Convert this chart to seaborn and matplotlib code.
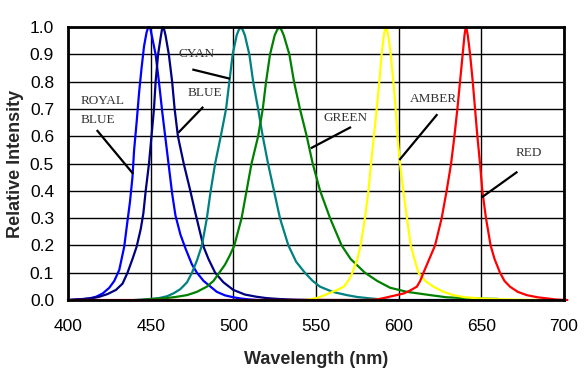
import matplotlib
matplotlib.use("Agg")
from matplotlib import pyplot as plt
import pandas as pd
import seaborn as sns

# LED spectra: wavelength (nm) and relative intensity
royal_blue_nm = [400, 405, 410, 413, 417, 421, 425, 428, 431, 434, 436, 437.5, 439, 440, 441.5,
                 443, 444.5, 446, 447.5, 448.3, 449, 449.8, 451, 453, 455, 457, 459, 461, 463,
                 465, 468, 471, 475, 478, 482, 486, 490, 495, 500, 505, 510, 515, 520]
royal_blue_val = [0.0, 0.002, 0.004, 0.006, 0.012, 0.024, 0.045, 0.07, 0.11, 0.195, 0.29, 0.36,
                  0.45, 0.55, 0.65, 0.76, 0.85, 0.93, 0.98, 0.995, 1.0, 0.995, 0.96, 0.9, 0.8,
                  0.69, 0.59, 0.49, 0.39, 0.31, 0.24, 0.19, 0.13, 0.1, 0.07, 0.05, 0.03, 0.017,
                  0.01, 0.005, 0.002, 0.0, 0.0]

blue_nm = [400, 405, 410, 415, 419, 424, 429, 433, 436, 439, 441.5, 444, 445.6, 447, 448, 449,
           450.5, 452, 453, 454.5, 456, 456.8, 457.5, 458.2, 459, 461, 463, 464.5, 466.5, 470,
           474, 477, 482, 485, 489, 494, 500, 507, 514, 520, 527, 534, 540, 560, 600, 640]
blue_val = [0.0, 0.002, 0.004, 0.007, 0.012, 0.022, 0.037, 0.06, 0.1, 0.15, 0.195, 0.26, 0.318,
            0.4, 0.45, 0.5, 0.6, 0.7, 0.8, 0.9, 0.96, 0.99, 1.0, 0.99, 0.97, 0.9, 0.8, 0.7, 0.6,
            0.5, 0.4, 0.32, 0.195, 0.15, 0.1, 0.065, 0.037, 0.02, 0.012, 0.007, 0.004, 0.002,
            0.001, 0.0, 0.0, 0.0]

cyan_nm = [440, 450, 455, 460, 464, 468, 472, 475, 478, 481, 484, 486.3, 489, 492.4, 495.6,
           497.6, 499.6, 502, 503.3, 504.5, 505.7, 507, 509.7, 512, 515, 517.8, 521, 524.6,
           528.2, 533.3, 538, 543.3, 548, 552.4, 560, 568.6, 575, 582.7, 590, 595]
cyan_val = [0.0, 0.004, 0.007, 0.014, 0.025, 0.04, 0.065, 0.1, 0.145, 0.2, 0.3, 0.4, 0.5, 0.6,
            0.7, 0.8, 0.9, 0.97, 0.99, 1.0, 0.99, 0.97, 0.9, 0.8, 0.7, 0.6, 0.5, 0.4, 0.3, 0.2,
            0.14, 0.1, 0.07, 0.049, 0.03, 0.018, 0.011, 0.006, 0.002, 0.0]

green_nm = [445, 450, 458, 465, 472, 478, 484, 488, 491.5, 495, 498, 500.6, 505, 508, 511, 515,
            517.8, 519.8, 522.2, 525, 526.5, 527.8, 529.1, 530.5, 533.9, 536.7, 540.3, 544.4,
            548, 552.5, 558.5, 565.5, 571, 579.6, 587, 594.8, 605, 619, 629, 640, 650, 660]
green_val = [0.0, 0.003, 0.006, 0.011, 0.018, 0.03, 0.049, 0.07, 0.1, 0.13, 0.165, 0.2, 0.3, 0.4,
             0.5, 0.6, 0.7, 0.8, 0.9, 0.97, 0.99, 1.0, 0.99, 0.97, 0.9, 0.8, 0.7, 0.6, 0.5, 0.4,
             0.3, 0.2, 0.15, 0.1, 0.07, 0.045, 0.03, 0.018, 0.01, 0.007, 0.005, 0.004]

amber_nm = [543, 548, 552, 556, 560, 564, 567, 570, 572, 575, 577, 579.6, 581.7, 583.3, 585,
            586.7, 588.3, 589.7, 591, 591.7, 592.3, 592.9, 593.7, 595.2, 596.8, 598.2, 599.3,
            600.8, 602.8, 605, 607.3, 609.5, 612, 616, 621, 627, 633, 640, 649, 660, 675, 687]
amber_val = [0.0, 0.004, 0.01, 0.02, 0.03, 0.04, 0.05, 0.075, 0.1, 0.15, 0.2, 0.3, 0.4, 0.5, 0.6,
             0.7, 0.8, 0.9, 0.97, 0.99, 1.0, 0.99, 0.97, 0.9, 0.8, 0.7, 0.6, 0.5, 0.4, 0.3, 0.2,
             0.15, 0.1, 0.07, 0.049, 0.03, 0.018, 0.01, 0.006, 0.003, 0.001, 0.0]

red_nm = [400, 500, 580, 587, 593, 598, 603, 607, 611, 613, 615, 618.5, 622, 626, 629, 631.7,
          633.7, 635.5, 637.1, 638.7, 639.8, 640.3, 640.7, 641.2, 641.8, 643.2, 644.8, 646.2,
          647.6, 649.2, 650.6, 652.8, 655.6, 658, 661.3, 664, 667.3, 672, 677.4, 684, 689.5,
          695, 702]
red_val = [0.0, 0.0, 0.0, 0.002, 0.01, 0.017, 0.024, 0.035, 0.049, 0.07, 0.1, 0.15, 0.2, 0.3, 0.4,
           0.5, 0.6, 0.7, 0.8, 0.9, 0.97, 0.99, 1.0, 0.99, 0.97, 0.9, 0.8, 0.7, 0.6, 0.5, 0.4,
           0.3, 0.2, 0.15, 0.1, 0.07, 0.049, 0.03, 0.018, 0.01, 0.006, 0.002, 0.0]

led_names = ["ROYAL BLUE", "BLUE", "CYAN", "GREEN", "AMBER", "RED"]
led_colors = ["#0000FF", "#000080", "#008080", "#008000", "#FFFF00", "#FF0000"]

series = {
    "ROYAL BLUE": (royal_blue_nm, royal_blue_val),
    "BLUE": (blue_nm, blue_val),
    "CYAN": (cyan_nm, cyan_val),
    "GREEN": (green_nm, green_val),
    "AMBER": (amber_nm, amber_val),
    "RED": (red_nm, red_val),
}
frames = []
for name in led_names:
    nm, val = series[name]
    frames.append(pd.DataFrame({"nm": nm, "val": val, "led": name}))
df = pd.concat(frames, ignore_index=True)

# label text position, pointer start, pointer end (data coords)
labels = [
    ("ROYAL\n\nBLUE", (407.5, 0.695), (417.4, 0.623), (439.5, 0.462)),
    ("BLUE", (472.6, 0.759), (481.8, 0.708), (466.7, 0.613)),
    ("CYAN", (467.1, 0.900), (475.2, 0.845), (498.0, 0.811)),
    ("GREEN", (554.8, 0.666), (571.2, 0.634), (546.8, 0.556)),
    ("AMBER", (606.9, 0.735), (623.4, 0.681), (600.4, 0.513)),
    ("RED", (671.0, 0.540), (671.8, 0.470), (650.2, 0.376)),
]

sns.set_style("white")
plt.rcParams["font.family"] = ["Liberation Sans", "DejaVu Sans"]

fig, ax = plt.subplots(figsize=(5.86, 3.72), dpi=100)
fig.subplots_adjust(left=0.116, right=0.9625, top=0.927, bottom=0.1935)

sns.lineplot(data=df, x="nm", y="val", hue="led", hue_order=led_names,
             palette=led_colors, estimator=None, sort=False, linewidth=1.6,
             legend=False, ax=ax, clip_on=False)

for text, pos, start, end in labels:
    ax.text(pos[0], pos[1], text, family=["Liberation Serif", "DejaVu Serif"],
            fontsize=9.5, color="#333333", ha="left", va="center", linespacing=0.72)
    ax.plot([start[0], end[0]], [start[1], end[1]], color="black", linewidth=1.6,
            solid_capstyle="butt")

ax.set_xlim(400, 700)
ax.set_ylim(0, 1.0)
ax.set_xticks(range(400, 701, 50))
ax.set_yticks([i / 10 for i in range(11)])
ax.set_yticklabels([f"{i / 10:.1f}" for i in range(11)])
ax.grid(True, color="black", linewidth=1.0)
ax.set_axisbelow(True)
for side in ["top", "right", "left", "bottom"]:
    ax.spines[side].set_visible(True)
    ax.spines[side].set_color("black")
    ax.spines[side].set_linewidth(2.0)
ax.tick_params(axis="both", labelsize=12.5, colors="black", direction="out",
               length=4, width=1.0)
ax.tick_params(axis="y", length=5, pad=5)
ax.tick_params(axis="x", pad=10)
ax.set_xlabel("Wavelength (nm)", fontsize=13, fontweight="bold", labelpad=12)
ax.set_ylabel("Relative Intensity", fontsize=13, fontweight="bold", labelpad=4)

fig.savefig("out.png", dpi=100)
